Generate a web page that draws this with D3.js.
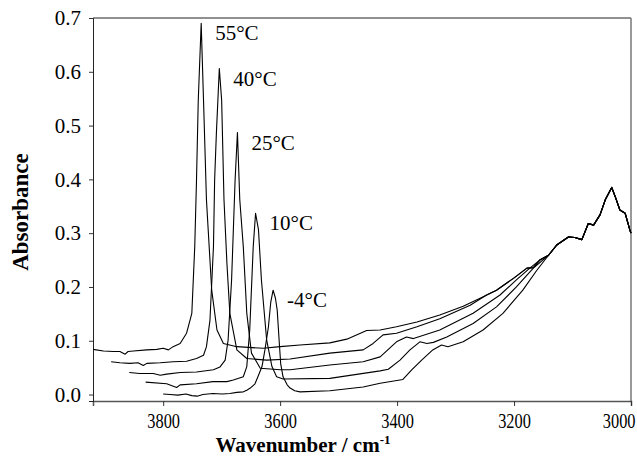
<!DOCTYPE html>
<html><head><meta charset="utf-8">
<script src="https://cdn.jsdelivr.net/npm/d3@7"></script>
<style>
body{margin:0;background:#fff}
svg{display:block}
text{font-family:"Liberation Serif","Times New Roman",serif;fill:#000}
</style>
</head><body>
<svg id="chart" width="637" height="458"></svg>
<script>
// ---------- data ----------
const xTickValues = [3800, 3600, 3400, 3200, 3000];
const yTickValues = [0.0, 0.1, 0.2, 0.3, 0.4, 0.5, 0.6, 0.7];
const seriesNames = ["55°C", "40°C", "25°C", "10°C", "-4°C"];

const wn55 = [3920,3902,3885,3874,3865,3860,3851,3828,3811,3800,3791,3783,3771,3760,3751,3746,3743,3740,3735,3731,3726,3723,3717,3708,3697,3674,3629,3600,3566,3515,3486,3452,3429,3401,3366,3327,3287,3258,3230,3201,3178,3167,3156];
const ab55 = [0.084,0.081,0.080,0.080,0.075,0.080,0.081,0.083,0.084,0.086,0.083,0.089,0.095,0.114,0.151,0.275,0.399,0.547,0.690,0.547,0.362,0.306,0.194,0.120,0.095,0.089,0.086,0.089,0.092,0.096,0.103,0.119,0.120,0.126,0.135,0.148,0.164,0.179,0.194,0.216,0.235,0.236,0.250];

const wn40 = [3889,3874,3857,3843,3834,3828,3805,3783,3760,3743,3731,3726,3720,3714,3712,3709,3704,3700,3696,3691,3686,3674,3657,3623,3583,3515,3458,3441,3424,3401,3366,3327,3275,3247,3230,3201,3178,3167,3156];
const ab40 = [0.061,0.059,0.058,0.059,0.054,0.058,0.059,0.061,0.062,0.067,0.073,0.089,0.138,0.275,0.399,0.486,0.606,0.547,0.362,0.244,0.151,0.083,0.067,0.064,0.066,0.077,0.083,0.095,0.111,0.114,0.126,0.141,0.166,0.185,0.194,0.216,0.235,0.236,0.250];

const wn25 = [3858,3840,3817,3805,3794,3771,3743,3714,3703,3694,3689,3683,3677,3673,3669,3663,3657,3649,3634,3600,3583,3515,3458,3429,3401,3384,3372,3327,3270,3224,3196,3173,3156];
const ab25 = [0.041,0.039,0.039,0.036,0.038,0.041,0.042,0.046,0.051,0.064,0.101,0.213,0.399,0.487,0.362,0.275,0.151,0.077,0.049,0.046,0.046,0.055,0.061,0.070,0.098,0.107,0.104,0.120,0.151,0.185,0.213,0.235,0.250];

const wn10 = [3830,3794,3777,3771,3743,3715,3691,3680,3663,3657,3652,3646,3642,3637,3632,3623,3614,3606,3595,3515,3429,3415,3395,3378,3361,3349,3338,3315,3270,3230,3196,3167];
const ab10 = [0.023,0.020,0.013,0.018,0.020,0.024,0.024,0.027,0.033,0.052,0.120,0.275,0.337,0.306,0.213,0.101,0.052,0.033,0.029,0.030,0.044,0.047,0.064,0.083,0.098,0.095,0.097,0.107,0.132,0.163,0.200,0.235];

const wnM4 = [3800,3788,3775,3761,3751,3742,3732,3715,3699,3686,3674,3663,3657,3651,3643,3638,3631,3626,3620,3616,3612,3608,3605,3601,3599,3595,3588,3583,3575,3566,3515,3458,3429,3390,3375,3358,3339,3324,3313,3287,3253,3219,3185,3161];
const abM4 = [0.001,0.000,-0.001,0.001,-0.002,-0.003,0.000,0.002,0.001,0.002,0.004,0.005,0.008,0.012,0.020,0.033,0.052,0.083,0.126,0.172,0.194,0.179,0.157,0.089,0.057,0.033,0.018,0.012,0.007,0.005,0.007,0.014,0.021,0.028,0.046,0.064,0.083,0.092,0.089,0.098,0.120,0.151,0.194,0.231];

// common part shared by all spectra
const wnTail = [3141,3127,3107,3096,3084,3073,3064,3053,3044,3033,3027,3019,3010,3002,3000];
const abTail = [0.259,0.278,0.293,0.292,0.288,0.318,0.315,0.334,0.362,0.385,0.368,0.343,0.337,0.306,0.300];

const seriesWn = [wn55, wn40, wn25, wn10, wnM4];
const seriesAb = [ab55, ab40, ab25, ab10, abM4];

// ---------- layout ----------
const W = 637, H = 458;
const m = {left: 93, right: 6, top: 18, bottom: 57};
const svg = d3.select("#chart");

const x = d3.scaleLinear().domain([3920, 3000]).range([m.left, W - m.right]);
const y = d3.scaleLinear().domain([-0.012, 0.7]).range([H - m.bottom, m.top]);

const series = seriesNames.map((name, i) => {
  const own = seriesWn[i].map((w, j) => [w, seriesAb[i][j]]);
  // the sharp free-OH band (above 3550 cm-1) carries the label
  const peak = own.filter(p => p[0] > 3550).reduce((a, b) => b[1] > a[1] ? b : a);
  const pts = own.concat(wnTail.map((w, j) => [w, abTail[j]]));
  return {name, pts, peak};
});

// frame
const g = svg.append("g");
g.append("line").attr("x1", m.left).attr("x2", W - m.right).attr("y1", m.top).attr("y2", m.top)
  .attr("stroke", "#222").attr("stroke-width", 1);
g.append("line").attr("x1", W - m.right).attr("x2", W - m.right).attr("y1", m.top).attr("y2", H - m.bottom)
  .attr("stroke", "#777").attr("stroke-width", 1.5);

// axes
const sx = 0.78;
const xAxis = d3.axisBottom(x).tickValues(xTickValues).tickSize(5).tickPadding(6).tickFormat(d3.format("d"));
const gx = svg.append("g").attr("transform", `translate(0,${H - m.bottom})`).call(xAxis);
gx.select(".domain").attr("stroke", "#555").attr("stroke-width", 1.5);
gx.selectAll(".tick line").attr("stroke", "#333");
gx.selectAll(".tick text").attr("font-size", 21)
  .attr("transform", `scale(${sx},1)`).attr("dy", "0.78em");
// last label kept inside the picture
gx.selectAll(".tick text").filter(d => d === 3000)
  .attr("text-anchor", "end").attr("x", 4 / sx);

const yAxis = d3.axisLeft(y).tickValues(yTickValues).tickSize(4).tickPadding(8).tickFormat(d3.format(".1f"));
const gy = svg.append("g").attr("transform", `translate(${m.left},0)`).call(yAxis);
gy.select(".domain").attr("stroke", "#222").attr("stroke-width", 1);
gy.selectAll(".tick line").attr("stroke", "#333");
gy.selectAll(".tick text").attr("font-size", 21);

// lines
const line = d3.line().x(d => x(d[0])).y(d => y(d[1]));
svg.append("g").selectAll("path").data(series).join("path")
  .attr("d", d => line(d.pts)).attr("fill", "none").attr("stroke", "#000").attr("stroke-width", 1.1)
  .attr("stroke-linejoin", "round");

// temperature labels next to each peak
svg.append("g").selectAll("text").data(series).join("text")
  .attr("x", d => x(d.peak[0]) + 14)
  .attr("y", d => y(d.peak[1]) + 17)
  .attr("font-size", 21).text(d => d.name);

// axis titles
svg.append("text").attr("transform", `translate(28,212) rotate(-90)`)
  .attr("text-anchor", "middle").attr("font-weight", "bold").attr("font-size", 23).text("Absorbance");
const xt = svg.append("text").attr("x", 303).attr("y", 452)
  .attr("text-anchor", "middle").attr("font-weight", "bold").attr("font-size", 21);
xt.append("tspan").text("Wavenumber / cm");
xt.append("tspan").attr("dy", -8).attr("font-size", 13).text("-1");
</script>
</body></html>
